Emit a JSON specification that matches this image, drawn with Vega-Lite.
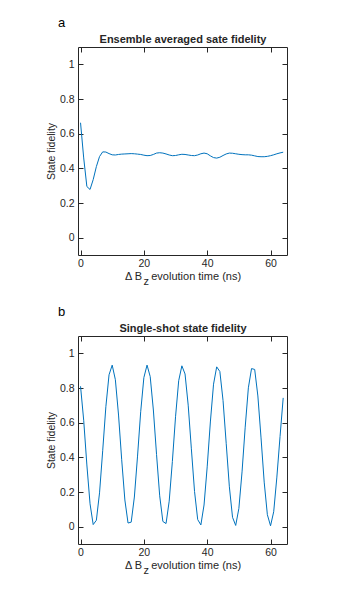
{
  "$schema": "https://vega.github.io/schema/vega-lite/v6.json",
  "padding": {"left": 46, "top": 16, "right": 5, "bottom": 5},
  "config": {
    "font": "Liberation Sans",
    "view": {"stroke": null},
    "axis": {
      "domainColor": "#262626", "tickColor": "#262626", "labelColor": "#262626", "titleColor": "#262626",
      "labelFont": "Liberation Sans", "titleFont": "Liberation Sans",
      "labelFontSize": 10.5, "titleFontSize": 10.5, "titleFontWeight": "normal",
      "grid": false, "tickSize": -5, "domainWidth": 1, "tickWidth": 1
    },
    "title": {"font": "Liberation Sans", "fontSize": 13, "fontWeight": "normal", "color": "#000000", "anchor": "start", "frame": "group", "dx": -20}
  },
  "datasets": {
    "a": [
      {"t":0,"f":0.663},{"t":1,"f":0.46},{"t":2,"f":0.295},{"t":3,"f":0.278},{"t":4,"f":0.335},{"t":5,"f":0.41},{"t":6,"f":0.468},{"t":7,"f":0.495},{"t":8,"f":0.494},{"t":9,"f":0.485},
      {"t":10,"f":0.478},{"t":11,"f":0.477},{"t":12,"f":0.48},{"t":13,"f":0.482},{"t":14,"f":0.483},{"t":15,"f":0.484},{"t":16,"f":0.485},{"t":17,"f":0.484},{"t":18,"f":0.482},{"t":19,"f":0.48},
      {"t":20,"f":0.476},{"t":21,"f":0.473},{"t":22,"f":0.474},{"t":23,"f":0.48},{"t":24,"f":0.488},{"t":25,"f":0.49},{"t":26,"f":0.488},{"t":27,"f":0.483},{"t":28,"f":0.477},{"t":29,"f":0.473},
      {"t":30,"f":0.474},{"t":31,"f":0.478},{"t":32,"f":0.481},{"t":33,"f":0.48},{"t":34,"f":0.477},{"t":35,"f":0.474},{"t":36,"f":0.473},{"t":37,"f":0.477},{"t":38,"f":0.484},{"t":39,"f":0.488},
      {"t":40,"f":0.484},{"t":41,"f":0.472},{"t":42,"f":0.462},{"t":43,"f":0.459},{"t":44,"f":0.464},{"t":45,"f":0.474},{"t":46,"f":0.483},{"t":47,"f":0.488},{"t":48,"f":0.487},{"t":49,"f":0.484},
      {"t":50,"f":0.481},{"t":51,"f":0.479},{"t":52,"f":0.478},{"t":53,"f":0.478},{"t":54,"f":0.476},{"t":55,"f":0.472},{"t":56,"f":0.468},{"t":57,"f":0.467},{"t":58,"f":0.467},{"t":59,"f":0.469},
      {"t":60,"f":0.473},{"t":61,"f":0.478},{"t":62,"f":0.484},{"t":63,"f":0.489},{"t":64,"f":0.493}
    ],
    "b": [
      {"t":0,"f":0.81},{"t":1,"f":0.614},{"t":2,"f":0.356},{"t":3,"f":0.132},{"t":4,"f":0.012},{"t":5,"f":0.037},{"t":6,"f":0.195},{"t":7,"f":0.438},{"t":8,"f":0.692},{"t":9,"f":0.876},
      {"t":10,"f":0.932},{"t":11,"f":0.848},{"t":12,"f":0.644},{"t":13,"f":0.386},{"t":14,"f":0.154},{"t":15,"f":0.021},{"t":16,"f":0.026},{"t":17,"f":0.171},{"t":18,"f":0.407},{"t":19,"f":0.663},
      {"t":20,"f":0.86},{"t":21,"f":0.932},{"t":22,"f":0.866},{"t":23,"f":0.673},{"t":24,"f":0.417},{"t":25,"f":0.178},{"t":26,"f":0.03},{"t":27,"f":0.018},{"t":28,"f":0.147},{"t":29,"f":0.376},
      {"t":30,"f":0.634},{"t":31,"f":0.842},{"t":32,"f":0.928},{"t":33,"f":0.881},{"t":34,"f":0.701},{"t":35,"f":0.449},{"t":36,"f":0.203},{"t":37,"f":0.041},{"t":38,"f":0.01},{"t":39,"f":0.125},
      {"t":40,"f":0.345},{"t":41,"f":0.604},{"t":42,"f":0.822},{"t":43,"f":0.922},{"t":44,"f":0.895},{"t":45,"f":0.728},{"t":46,"f":0.481},{"t":47,"f":0.23},{"t":48,"f":0.054},{"t":49,"f":0.007},
      {"t":50,"f":0.105},{"t":51,"f":0.316},{"t":52,"f":0.574},{"t":53,"f":0.801},{"t":54,"f":0.912},{"t":55,"f":0.907},{"t":56,"f":0.754},{"t":57,"f":0.512},{"t":58,"f":0.257},{"t":59,"f":0.069},
      {"t":60,"f":0.005},{"t":61,"f":0.086},{"t":62,"f":0.286},{"t":63,"f":0.52},{"t":64,"f":0.743}
    ]
  },
  "spacing": 18,
  "vconcat": [
    {
      "width": 209, "height": 208,
      "title": {"text": "a"},
      "data": {"name": "a"},
      "resolve": {"axis": {"x": "independent", "y": "independent"}},
      "layer": [
        {
          "mark": {"type": "line", "color": "#0072BD", "strokeWidth": 1},
          "encoding": {
            "x": {"field": "t", "type": "quantitative", "scale": {"domain": [-0.8, 65.2], "nice": false, "zero": false},
                  "axis": {"values": [0, 20, 40, 60], "format": "d", "labelPadding": 8, "titleFontSize": 11, "titleLineHeight": 5, "titlePadding": 2,
                           "title": ["Δ B\u00a0\u00a0\u00a0evolution time (ns)", "z\u00a0\u00a0\u00a0\u00a0\u00a0\u00a0\u00a0\u00a0\u00a0\u00a0\u00a0\u00a0\u00a0\u00a0\u00a0\u00a0\u00a0\u00a0\u00a0\u00a0\u00a0\u00a0\u00a0\u00a0\u200b"]}},
            "y": {"field": "f", "type": "quantitative", "scale": {"domain": [-0.1, 1.1], "nice": false, "zero": false},
                  "axis": {"values": [0, 0.2, 0.4, 0.6, 0.8, 1], "format": "~g", "labelPadding": 9, "title": "State fidelity", "titlePadding": 3}}
          }
        },
        {
          "mark": {"type": "line", "opacity": 0},
          "encoding": {
            "x": {"field": "t", "type": "quantitative", "scale": {"domain": [-0.8, 65.2], "nice": false, "zero": false},
                  "axis": {"orient": "top", "values": [0, 20, 40, 60], "labels": false, "title": "Ensemble averaged sate fidelity", "titleFontWeight": "bold", "titleFontSize": 11, "titlePadding": 2}},
            "y": {"field": "f", "type": "quantitative", "scale": {"domain": [-0.1, 1.1], "nice": false, "zero": false},
                  "axis": {"orient": "right", "values": [0, 0.2, 0.4, 0.6, 0.8, 1], "labels": false, "title": null}}
          }
        }
      ]
    },
    {
      "width": 209, "height": 208,
      "title": {"text": "b"},
      "data": {"name": "b"},
      "resolve": {"axis": {"x": "independent", "y": "independent"}},
      "layer": [
        {
          "mark": {"type": "line", "color": "#0072BD", "strokeWidth": 1},
          "encoding": {
            "x": {"field": "t", "type": "quantitative", "scale": {"domain": [-0.8, 65.2], "nice": false, "zero": false},
                  "axis": {"values": [0, 20, 40, 60], "format": "d", "labelPadding": 8, "titleFontSize": 11, "titleLineHeight": 5, "titlePadding": 2,
                           "title": ["Δ B\u00a0\u00a0\u00a0evolution time (ns)", "z\u00a0\u00a0\u00a0\u00a0\u00a0\u00a0\u00a0\u00a0\u00a0\u00a0\u00a0\u00a0\u00a0\u00a0\u00a0\u00a0\u00a0\u00a0\u00a0\u00a0\u00a0\u00a0\u00a0\u00a0\u200b"]}},
            "y": {"field": "f", "type": "quantitative", "scale": {"domain": [-0.1, 1.1], "nice": false, "zero": false},
                  "axis": {"values": [0, 0.2, 0.4, 0.6, 0.8, 1], "format": "~g", "labelPadding": 9, "title": "State fidelity", "titlePadding": 3}}
          }
        },
        {
          "mark": {"type": "line", "opacity": 0},
          "encoding": {
            "x": {"field": "t", "type": "quantitative", "scale": {"domain": [-0.8, 65.2], "nice": false, "zero": false},
                  "axis": {"orient": "top", "values": [0, 20, 40, 60], "labels": false, "title": "Single-shot state fidelity", "titleFontWeight": "bold", "titleFontSize": 11, "titlePadding": 2}},
            "y": {"field": "f", "type": "quantitative", "scale": {"domain": [-0.1, 1.1], "nice": false, "zero": false},
                  "axis": {"orient": "right", "values": [0, 0.2, 0.4, 0.6, 0.8, 1], "labels": false, "title": null}}
          }
        }
      ]
    }
  ]
}
